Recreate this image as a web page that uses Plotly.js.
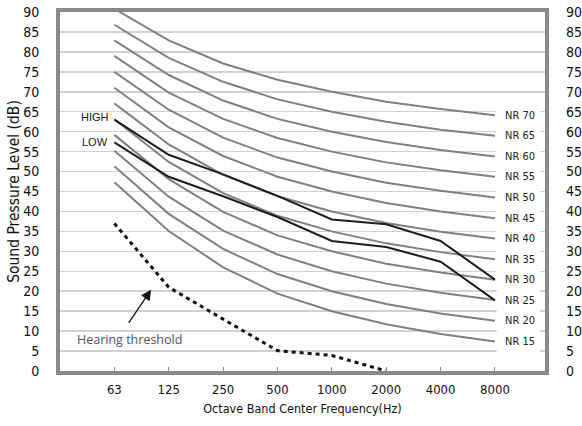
<!DOCTYPE html>
<html>
<head>
<meta charset="utf-8">
<script src="https://cdn.plot.ly/plotly-3.0.1.min.js"></script>
<style>html,body{margin:0;padding:0;background:#fff;}#chart{width:582px;height:426px;}</style>
</head>
<body>
<div id="chart"></div>
<script>
const freqs = ['63','125','250','500','1000','2000','4000','8000'];
const nrNames = ['NR 15','NR 20','NR 25','NR 30','NR 35','NR 40','NR 45','NR 50','NR 55','NR 60','NR 65','NR 70'];
const nr15 = [47.3, 35.1, 26.0, 19.4, 15.0, 11.7, 9.3, 7.4];
const nr20 = [51.3, 39.4, 30.6, 24.3, 20.0, 16.8, 14.4, 12.6];
const nr25 = [55.2, 43.7, 35.2, 29.2, 25.0, 21.9, 19.6, 17.8];
const nr30 = [59.2, 48.1, 39.9, 34.0, 30.0, 26.9, 24.7, 22.9];
const nr35 = [63.1, 52.4, 44.6, 38.9, 35.0, 32.0, 29.8, 28.0];
const nr40 = [67.1, 56.8, 49.2, 43.8, 40.0, 37.1, 34.9, 33.2];
const nr45 = [71.0, 61.1, 53.9, 48.7, 45.0, 42.1, 40.0, 38.3];
const nr50 = [75.0, 65.5, 58.5, 53.5, 50.0, 47.2, 45.2, 43.5];
const nr55 = [79.0, 69.8, 63.2, 58.4, 55.0, 52.3, 50.3, 48.7];
const nr60 = [82.9, 74.2, 67.8, 63.2, 60.0, 57.4, 55.4, 53.8];
const nr65 = [86.8, 78.5, 72.5, 68.1, 65.0, 62.5, 60.5, 59.0];
const nr70 = [90.8, 82.9, 77.1, 73.0, 70.0, 67.5, 65.7, 64.1];
const highLevel = [63.0, 54.2, 49.3, 43.9, 38.0, 36.8, 32.6, 22.9];
const lowLevel  = [57.3, 48.7, 43.8, 38.6, 32.6, 31.1, 27.4, 17.7];
const thresholdFreqs = ['63','125','250','500','1000','2000'];
const thresholdLevel = [37.0, 21.0, 13.0, 5.1, 3.9, 0.0];

const nrSeries = [nr15, nr20, nr25, nr30, nr35, nr40, nr45, nr50, nr55, nr60, nr65, nr70];
const FONT = '"DejaVu Sans Condensed", "Liberation Sans Narrow", Roboto, sans-serif';

const traces = [];
nrSeries.forEach((s, i) => {
  traces.push({x: freqs, y: s, type: 'scatter', mode: 'lines', name: nrNames[i],
    line: {color: '#808080', width: 2}, hoverinfo: 'skip'});
});
traces.push({x: freqs, y: highLevel, type: 'scatter', mode: 'lines', name: 'HIGH',
  line: {color: '#1e1e1e', width: 2}});
traces.push({x: freqs, y: lowLevel, type: 'scatter', mode: 'lines', name: 'LOW',
  line: {color: '#1e1e1e', width: 2}});
traces.push({x: thresholdFreqs, y: thresholdLevel, type: 'scatter', mode: 'lines', name: 'Hearing threshold',
  line: {color: '#111', width: 3, dash: '4px,4px'}});
// dummy trace to activate right axis
traces.push({x: freqs, y: nr15, yaxis: 'y2', type: 'scatter', mode: 'lines',
  line: {width: 0, color: 'rgba(0,0,0,0)'}, hoverinfo: 'skip', showlegend: false});

const annotations = [];
nrSeries.forEach((s, i) => {
  annotations.push({x: 7, y: s[7], xref: 'x', yref: 'y', text: nrNames[i], showarrow: false,
    xanchor: 'left', yanchor: 'middle', xshift: 8,
    font: {family: FONT, size: 11, color: '#222'}});
});
annotations.push({x: -0.35, y: 63.8, xref: 'x', yref: 'y', text: 'HIGH', showarrow: false,
  font: {family: 'Liberation Sans, Arial, sans-serif', size: 11, color: '#222'}});
annotations.push({x: -0.35, y: 57.3, xref: 'x', yref: 'y', text: 'LOW', showarrow: false,
  font: {family: 'Liberation Sans, Arial, sans-serif', size: 11, color: '#222'}});
annotations.push({x: 0.28, y: 7.85, xref: 'x', yref: 'y', text: 'Hearing threshold', showarrow: false,
  font: {family: '"Open Sans", sans-serif', size: 12.5, color: '#555'}});
annotations.push({x: 0.676, y: 20.4, xref: 'x', yref: 'y', ax: 0.245, ay: 11.7, axref: 'x', ayref: 'y',
  text: '', showarrow: true, arrowhead: 2, arrowsize: 1.6, arrowwidth: 1.3, arrowcolor: '#111'});

const layout = {
  width: 582, height: 426,
  margin: {l: 60, r: 37, t: 12, b: 55},
  paper_bgcolor: '#fff', plot_bgcolor: '#fff',
  showlegend: false,
  font: {family: FONT, color: '#111'},
  xaxis: {
    type: 'category', categoryorder: 'array', categoryarray: freqs,
    range: [-1.0, 7.92], showgrid: false, zeroline: false,
    showline: true, linecolor: '#8a8a8a', linewidth: 4, mirror: true,
    ticks: 'inside', ticklen: 4, tickwidth: 1, tickcolor: '#8a8a8a',
    ticklabelstandoff: 3,
    tickfont: {family: FONT, size: 13, color: '#111'},
    title: {text: 'Octave Band Center Frequency(Hz)', font: {family: FONT, size: 12.5, color: '#111'}, standoff: 10}
  },
  yaxis: {
    range: [0, 90], dtick: 5, tick0: 0,
    showgrid: true, gridcolor: '#d2d2d2', gridwidth: 1.5, zeroline: false,
    showline: true, linecolor: '#8a8a8a', linewidth: 4, mirror: true,
    ticks: '', ticklabelstandoff: 14,
    tickfont: {family: FONT, size: 14, color: '#111'},
    title: {text: 'Sound Pressure Level (dB)', font: {family: FONT, size: 15.5, color: '#111'}, standoff: 0}
  },
  yaxis2: {
    overlaying: 'y', side: 'right', range: [0, 90], dtick: 5, tick0: 0,
    showgrid: false, zeroline: false, showline: false, ticks: '', ticklabelstandoff: 20,
    tickfont: {family: FONT, size: 14, color: '#111'}
  },
  shapes: [{type: 'rect', xref: 'x', yref: 'y', x0: 7.03, x1: 7.83, y0: 2.5, y1: 67,
    fillcolor: '#fff', line: {width: 0}, layer: 'between'}],
  annotations: annotations
};

Plotly.newPlot('chart', traces, layout, {displayModeBar: false, staticPlot: true});
</script>
</body>
</html>
